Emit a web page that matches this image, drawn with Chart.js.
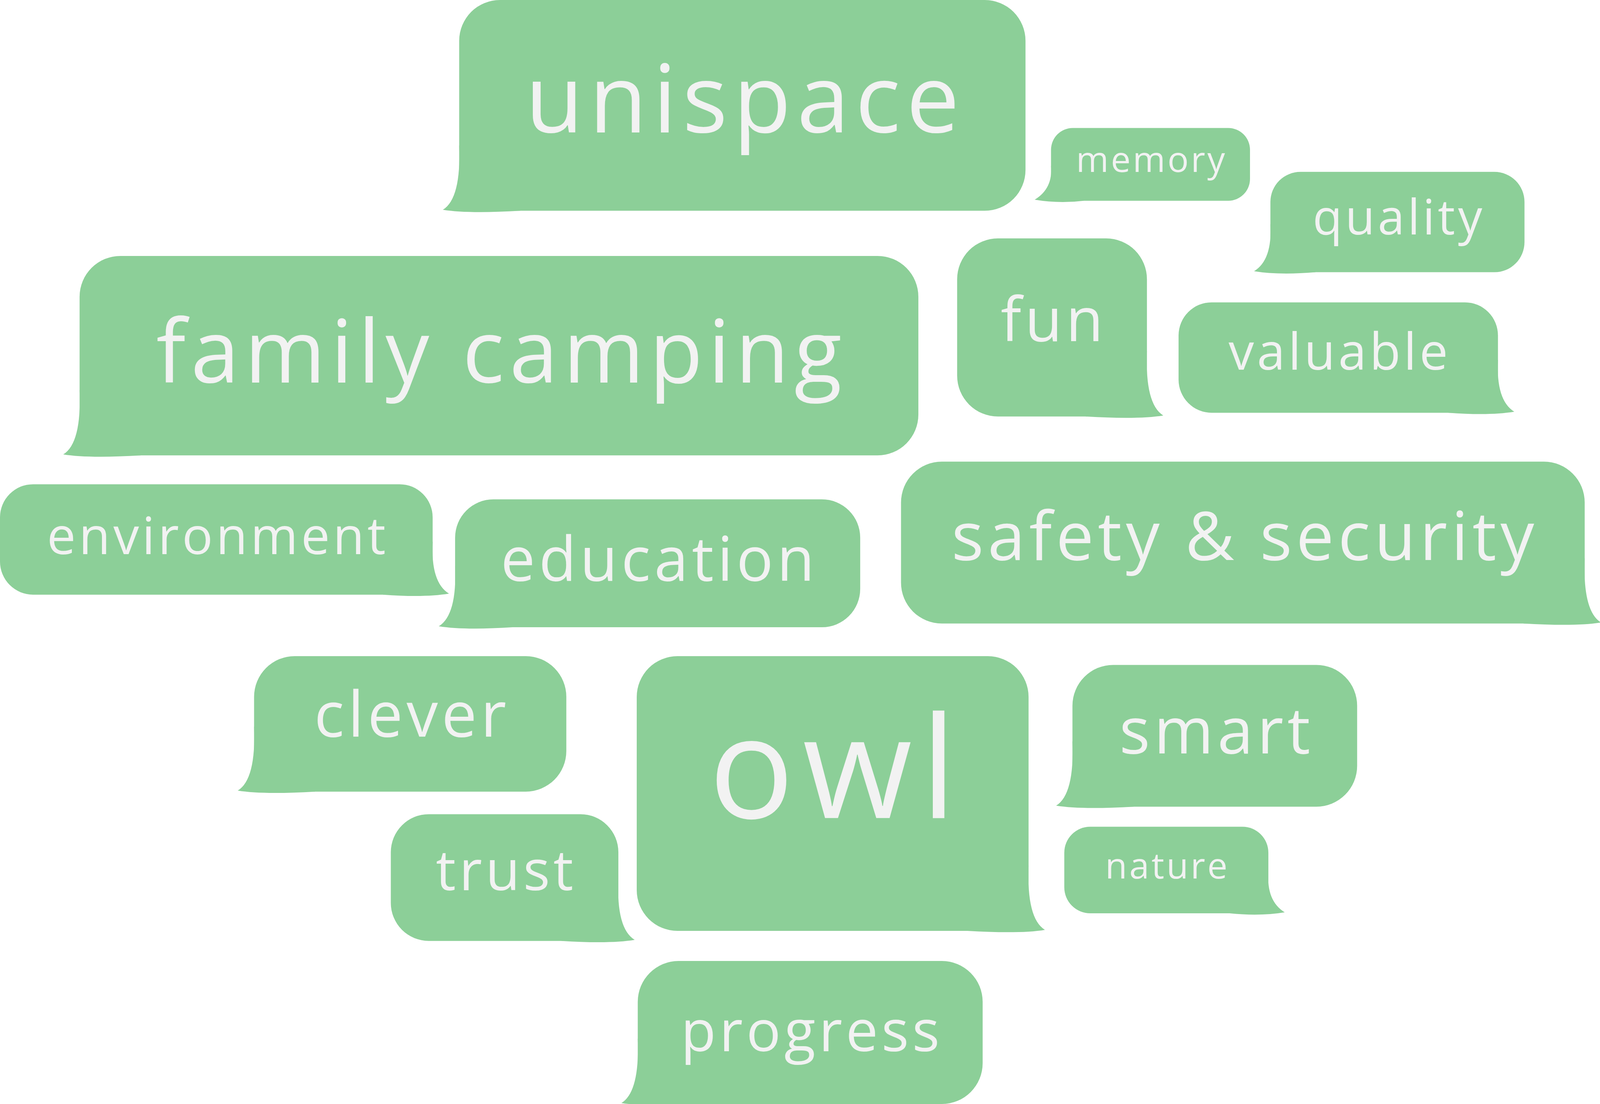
<!DOCTYPE html>
<html>
<head>
<meta charset="utf-8">
<script src="https://cdn.jsdelivr.net/npm/chart.js@4.4.0/dist/chart.umd.min.js"></script>
<style>
  html, body { margin: 0; padding: 0; background: #fff; }
  #wrap { width: 100vw; height: 100vh; }
</style>
</head>
<body>
<div id="wrap"><canvas id="cloud"></canvas></div>
<script>
// word cloud data (coordinates in a 1568 x 880 reference space)
const words   = ['unispace', 'memory', 'quality', 'family camping', 'fun', 'valuable', 'environment', 'education',
                 'safety & security', 'clever', 'owl', 'smart', 'nature', 'trust', 'progress'];
const boxLeft   = [450, 1030, 1245, 78, 938, 1155, 0, 446, 883, 249, 624, 1051, 1043, 383, 625];
const boxTop    = [0, 102, 137, 204, 190, 241, 386, 398, 368, 523, 523, 530, 659, 649, 766];
const boxRight  = [1005, 1225, 1494, 900, 1124, 1468, 424, 843, 1553, 555, 1008, 1330, 1243, 606, 963];
const boxBottom = [168, 160, 217, 363, 332, 329, 474, 500, 497, 631, 742, 643, 728, 750, 880];
const tailSide  = ['L', 'L', 'L', 'L', 'R', 'R', 'R', 'L', 'R', 'L', 'R', 'L', 'R', 'R', 'L'];
const textWidth = [431, 148, 169, 677, 104, 218, 335, 311, 575, 192, 251, 191, 122, 138, 257];
const textMid   = [84, 129, 176, 285, 258, 283, 430, 449, 431, 573, 620, 586, 692, 697, 825];

const bubbleGreen = '#8ccf98';
const textColor = '#f2f2f2';

// draws the speech bubbles and their words at the positions given by the scales
const bubblePlugin = {
  id: 'bubbles',
  afterDatasetsDraw(chart) {
    const ctx = chart.ctx;
    const xs = chart.scales.x, ys = chart.scales.y;
    const k = (xs.getPixelForValue(1568) - xs.getPixelForValue(0)) / 1568;
    words.forEach((w, i) => {
      const l = xs.getPixelForValue(boxLeft[i]), r = xs.getPixelForValue(boxRight[i]);
      const t = ys.getPixelForValue(boxTop[i]), b = ys.getPixelForValue(boxBottom[i]);
      const rad = Math.min(40 * k, (b - t) * 0.3);
      ctx.save();
      ctx.fillStyle = bubbleGreen;
      ctx.beginPath();
      ctx.roundRect(l, t, r - l, b - t, rad);
      ctx.fill();
      // tail
      ctx.beginPath();
      if (tailSide[i] === 'L') {
        const tip = l - 16 * k;
        ctx.moveTo(l, b - rad * 1.6);
        ctx.quadraticCurveTo(l + 2 * k, b - 12 * k, tip, b - 1 * k);
        ctx.quadraticCurveTo(l + 8 * k, b + 3 * k, l + rad * 1.5, b);
      } else {
        const tip = r + 16 * k;
        ctx.moveTo(r, b - rad * 1.6);
        ctx.quadraticCurveTo(r - 2 * k, b - 12 * k, tip, b - 1 * k);
        ctx.quadraticCurveTo(r - 8 * k, b + 3 * k, r - rad * 1.5, b);
      }
      ctx.closePath();
      ctx.fill();
      // word, fitted to its width
      ctx.fillStyle = textColor;
      ctx.textAlign = 'center';
      ctx.textBaseline = 'middle';
      let size = 100;
      ctx.font = size + 'px "Open Sans"';
      ctx.letterSpacing = (size * 0.06) + 'px';
      const m = ctx.measureText(w).width;
      size = size * (textWidth[i] * k) / m;
      ctx.font = size + 'px "Open Sans"';
      ctx.letterSpacing = (size * 0.06) + 'px';
      const cx = (l + r) / 2;
      ctx.fillText(w, cx + size * 0.03, ys.getPixelForValue(textMid[i]));
      ctx.restore();
    });
  }
};

new Chart(document.getElementById('cloud'), {
  type: 'scatter',
  data: {
    datasets: [{
      data: words.map((w, i) => ({ x: (boxLeft[i] + boxRight[i]) / 2, y: (boxTop[i] + boxBottom[i]) / 2 })),
      pointRadius: 0
    }]
  },
  options: {
    responsive: true,
    maintainAspectRatio: false,
    animation: false,
    layout: { padding: 0 },
    plugins: { legend: { display: false }, tooltip: { enabled: false } },
    scales: {
      x: { type: 'linear', min: 0, max: 1568, display: false },
      y: { type: 'linear', min: 0, max: 880, reverse: true, display: false }
    }
  },
  plugins: [bubblePlugin]
});
</script>
</body>
</html>
